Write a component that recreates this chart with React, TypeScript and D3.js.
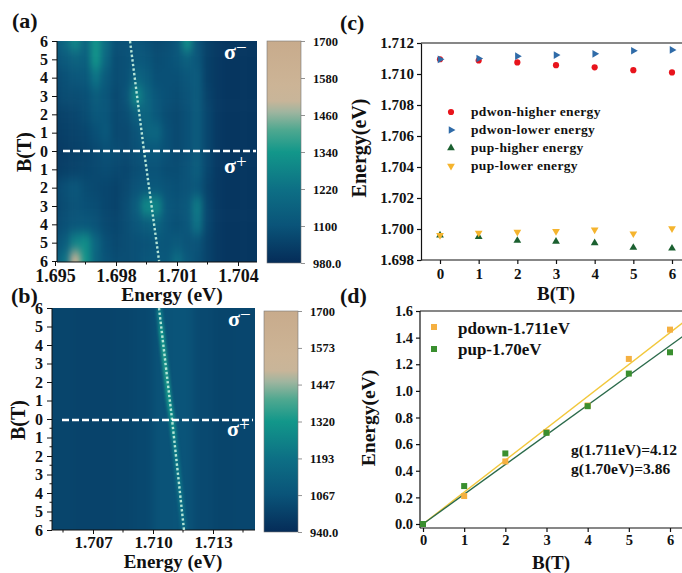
import React, { useEffect, useRef } from "react";
import * as d3 from "d3";

const serif = "'Liberation Serif', serif";

// panel (a): rows run from +6 T (sigma-) to -6 T (sigma+), columns every 0.5 meV from 1.695 eV
const bRows = [6, 5, 4, 3, 2, 1, 0, -1, -2, -3, -4, -5, -6];
const aEnergies = [1.695, 1.6955, 1.696, 1.6965, 1.697, 1.6975, 1.698, 1.6985, 1.699, 1.6995, 1.7, 1.7005, 1.701, 1.7015, 1.702, 1.7025, 1.703, 1.7035, 1.704, 1.7045];
const aGrid = [
  [1110, 1190, 1290, 1170, 1330, 1200, 1090, 1090, 1110, 1090, 1070, 1080, 1110, 1320, 1100, 1040, 1020, 1010, 1010, 1010],
  [1100, 1130, 1160, 1150, 1330, 1180, 1080, 1090, 1120, 1110, 1080, 1090, 1110, 1150, 1110, 1040, 1020, 1010, 1010, 1010],
  [1070, 1090, 1110, 1120, 1230, 1130, 1080, 1090, 1170, 1140, 1090, 1090, 1090, 1110, 1130, 1040, 1020, 1010, 1010, 1010],
  [1060, 1080, 1080, 1090, 1140, 1110, 1070, 1100, 1290, 1180, 1110, 1090, 1080, 1100, 1130, 1050, 1020, 1010, 1010, 1010],
  [1040, 1050, 1060, 1080, 1120, 1110, 1070, 1080, 1150, 1170, 1120, 1080, 1070, 1090, 1130, 1060, 1020, 1010, 1010, 1010],
  [1030, 1040, 1050, 1060, 1090, 1120, 1070, 1070, 1100, 1170, 1180, 1090, 1070, 1090, 1130, 1060, 1020, 1010, 1010, 1010],
  [1020, 1030, 1040, 1050, 1070, 1090, 1080, 1070, 1090, 1120, 1120, 1090, 1070, 1090, 1130, 1060, 1020, 1010, 1010, 1010],
  [1030, 1040, 1050, 1060, 1070, 1080, 1070, 1060, 1080, 1100, 1100, 1080, 1080, 1100, 1140, 1060, 1020, 1010, 1010, 1010],
  [1060, 1090, 1110, 1080, 1070, 1060, 1050, 1070, 1100, 1120, 1120, 1100, 1090, 1100, 1110, 1050, 1020, 1010, 1010, 1010],
  [1060, 1080, 1100, 1090, 1080, 1060, 1050, 1080, 1140, 1300, 1290, 1120, 1100, 1120, 1250, 1060, 1020, 1010, 1010, 1010],
  [1070, 1090, 1110, 1120, 1100, 1070, 1060, 1080, 1110, 1140, 1170, 1110, 1090, 1110, 1230, 1060, 1020, 1010, 1010, 1010],
  [1090, 1140, 1280, 1310, 1180, 1090, 1070, 1080, 1090, 1100, 1120, 1110, 1130, 1100, 1100, 1050, 1020, 1010, 1010, 1010],
  [1120, 1230, 1570, 1330, 1170, 1100, 1080, 1080, 1090, 1110, 1120, 1120, 1210, 1120, 1090, 1050, 1020, 1010, 1010, 1010],
];
const aDotted = [1.69869, 1.69938, 1.70012];

// panel (b): a flat background with one sharp ridge
const bEnergies = [1.7045, 1.7055, 1.7065, 1.7075, 1.7085, 1.7095, 1.7105, 1.7115, 1.7125, 1.7135, 1.7145];
const bBackground = [1025, 1020, 1015, 1015, 1020, 1030, 1065, 1070, 1035, 1020, 1025];
const bRidge = [1.7103, 1.7104, 1.7105, 1.7106, 1.7107, 1.7108, 1.71095, 1.71105, 1.71115, 1.71125, 1.71135, 1.71145, 1.71155];
const bRidgeValues = [1250, 1320, 1335, 1335, 1325, 1310, 1290, 1240, 1220, 1210, 1200, 1190, 1170];
const bDotted = [1.7103, 1.71095, 1.71155];

const aBarTicks = [1700, 1580, 1460, 1340, 1220, 1100, 980];
const bBarTicks = [1700, 1573, 1447, 1320, 1193, 1067, 940];
const cmapStops = [0, 0.17, 0.33, 0.5, 0.6, 0.68, 0.73, 0.8, 1];
const cmapColors = ["#052c58", "#0a5479", "#0d6f85", "#12978a", "#4fa890", "#9fb59f", "#c8b599", "#ccb496", "#c8ab8c"];

// panel (c)
const fieldB = [0, 1, 2, 3, 4, 5, 6];
const pdownHigher = [1.71095, 1.71087, 1.71075, 1.71057, 1.71043, 1.71025, 1.7101];
const pdownLower = [1.71095, 1.7110, 1.71115, 1.71122, 1.7113, 1.7115, 1.71155];
const pupHigher = [1.6996, 1.6995, 1.69925, 1.6992, 1.6991, 1.6988, 1.69875];
const pupLower = [1.6996, 1.69975, 1.6998, 1.69985, 1.69995, 1.6997, 1.70003];
const cTicks = [1.698, 1.7, 1.702, 1.704, 1.706, 1.708, 1.71, 1.712];

// panel (d)
const splitPdown = [0, 0.21, 0.47, 0.69, 0.89, 1.24, 1.46];
const splitPup = [0, 0.285, 0.53, 0.685, 0.885, 1.13, 1.29];
const fitEnds = [0, 6.3];
const fitPdown = [0, 1.51];
const fitPup = [0, 1.407];
const dTicks = [0, 0.2, 0.4, 0.6, 0.8, 1.0, 1.2, 1.4, 1.6];

const App = () => {
  const svgRef = useRef<SVGSVGElement>(null);

  useEffect(() => {
    const svg = d3.select(svgRef.current);
    svg.selectAll("*").remove();
    svg.style("font-family", serif).style("font-weight", "bold");
    const defs = svg.append("defs");

    const cmap = (lo: number, hi: number) =>
      d3.scaleLinear<string>()
        .domain(cmapStops.map((s) => lo + s * (hi - lo)))
        .range(cmapColors);

    const label = (x: number, y: number, s: string, size: number, anchor = "start", rotate = false) => {
      const t = svg.append("text").text(s).attr("font-size", size).attr("text-anchor", anchor).attr("fill", "#111");
      if (rotate) t.attr("transform", `translate(${x},${y}) rotate(-90)`);
      else t.attr("x", x).attr("y", y);
      return t;
    };

    const styleAxis = (g: any, size: number, width = 1) => {
      g.selectAll("text").attr("font-size", size).attr("font-family", serif).attr("font-weight", "bold").attr("fill", "#111");
      g.selectAll("line").attr("stroke", "#111").attr("stroke-width", width);
      g.selectAll(".domain").attr("stroke", "#111").attr("stroke-width", width);
    };

    // heatmap frame shared by (a) and (b)
    const heatPanel = (opts: any) => {
      const { id, x, y, left, right, top, bottom, xTicks, minor, yMinor, blur } = opts;
      defs.append("clipPath").attr("id", `clip-${id}`).append("rect")
        .attr("x", left).attr("y", top).attr("width", right - left).attr("height", bottom - top);
      const f = defs.append("filter").attr("id", `blur-${id}`)
        .attr("filterUnits", "userSpaceOnUse").attr("x", 0).attr("y", 0).attr("width", 682).attr("height", 573)
        .attr("color-interpolation-filters", "sRGB");
      f.append("feGaussianBlur").attr("stdDeviation", blur);
      const outer = svg.append("g").attr("clip-path", `url(#clip-${id})`);
      const inner = outer.append("g").attr("filter", `url(#blur-${id})`);
      opts.draw(inner, outer);

      const ax = d3.axisBottom(x).tickValues(xTicks).tickFormat(d3.format(".3f") as any).tickSize(4).tickSizeOuter(0);
      const gx = svg.append("g").attr("transform", `translate(0,${bottom})`).call(ax as any);
      gx.select(".domain").attr("d", `M${left},0H${right}`);
      styleAxis(gx, opts.xFont);
      gx.selectAll("text").attr("dy", opts.xDy);
      gx.selectAll(".minor").data(minor).enter().append("line").attr("class", "minor")
        .attr("x1", (d: any) => x(d)).attr("x2", (d: any) => x(d)).attr("y1", 0).attr("y2", 2.5).attr("stroke", "#111");

      const ay = d3.axisLeft(y).tickValues(bRows).tickFormat((d: any) => `${Math.abs(d)}`).tickSize(5).tickSizeOuter(0);
      const gy = svg.append("g").attr("transform", `translate(${left},0)`).call(ay as any);
      gy.select(".domain").attr("d", `M0,${top}V${bottom}`);
      styleAxis(gy, 16);
      gy.selectAll("text").attr("x", -9);
      gy.selectAll(".minor").data(yMinor).enter().append("line").attr("class", "minor")
        .attr("y1", (d: any) => y(d)).attr("y2", (d: any) => y(d)).attr("x1", 0).attr("x2", -2.5).attr("stroke", "#111");
    };

    const colorbar = (x0: number, y0: number, y1: number, ticks: number[], id: string) => {
      const lo = ticks[ticks.length - 1];
      const hi = ticks[0];
      const scale = d3.scaleLinear().domain([lo, hi]).range([y1, y0]);
      const grad = defs.append("linearGradient").attr("id", id).attr("x1", 0).attr("x2", 0).attr("y1", 1).attr("y2", 0);
      cmapStops.forEach((s, i) => grad.append("stop").attr("offset", s).attr("stop-color", cmapColors[i]));
      svg.append("rect").attr("x", x0).attr("y", y0).attr("width", 34).attr("height", y1 - y0)
        .attr("fill", `url(#${id})`).attr("stroke", "#777").attr("stroke-width", 0.6);
      const g = svg.append("g").attr("transform", `translate(${x0 + 34},0)`)
        .call(d3.axisRight(scale).tickValues(ticks).tickFormat((d: any) => (d === lo ? `${d}.0` : `${d}`)).tickSize(4).tickSizeOuter(0) as any);
      g.select(".domain").remove();
      styleAxis(g, 12.5, 0.8);
      g.selectAll("line").attr("stroke", "#777");
      g.selectAll("text").attr("x", 12);
    };

    const sigma = (x: number, y: number, sign: string) => {
      const t = svg.append("text").attr("x", x).attr("y", y).attr("fill", "#fff");
      t.append("tspan").text("σ").attr("font-size", 22);
      t.append("tspan").text(sign).attr("font-size", 19).attr("font-weight", "normal").attr("dy", -5);
    };

    const dottedLine = (x: any, y: any, energies: number[]) => {
      const line = d3.line<number>().x((d) => x(d)).y((_, i) => y([6, 0, -6][i]));
      svg.append("path").attr("d", line(energies)).attr("fill", "none")
        .attr("stroke", "#b4e4d6").attr("stroke-width", 2.4).attr("stroke-dasharray", "2.4 2.2");
    };

    // (a)
    {
      const x = d3.scaleLinear().domain([1.695, 1.698]).range([55, 116]);
      const y = d3.scaleLinear().domain([6, -6]).range([41, 261]);
      const color = cmap(980, 1700);
      const left = 57;
      const right = 257;
      const top = 41;
      const bottom = 262;
      heatPanel({
        id: "a", x, y, left, right, top, bottom, blur: "3 6",
        xTicks: [1.695, 1.698, 1.701, 1.704], minor: [1.6965, 1.6995, 1.7025], yMinor: [], xFont: 18, xDy: "0.7em",
        draw: (inner: any) => {
          const dx = x(1.6955) - x(1.695);
          const dy = y(5) - y(6);
          aGrid.forEach((row, r) => {
            inner.selectAll(null).data(row).enter().append("rect")
              .attr("x", (_: any, c: number) => x(aEnergies[c]) - dx / 2 - (c === 0 ? 20 : 0))
              .attr("y", y(bRows[r]) - dy / 2 - (r === 0 ? 20 : 0))
              .attr("width", (_: any, c: number) => dx + 0.5 + (c === 0 ? 20 : 0) + (c === row.length - 1 ? 20 : 0))
              .attr("height", dy + 0.5 + (r === 0 || r === bRows.length - 1 ? 20 : 0))
              .attr("fill", (d: number) => color(d));
          });
        },
      });
      dottedLine(x, y, aDotted);
      svg.append("line").attr("x1", left + 6).attr("x2", right - 1).attr("y1", y(0)).attr("y2", y(0))
        .attr("stroke", "#fff").attr("stroke-width", 2.3).attr("stroke-dasharray", "7 3");
      sigma(224, 59, "−");
      sigma(224, 173, "+");
      colorbar(267, 41, 263, aBarTicks, "bar-a");
      label(12, 28, "(a)", 22);
      label(172, 301, "Energy (eV)", 19.5, "middle");
      label(31, 152, "B(T)", 20, "middle", true);
    }

    // (b)
    {
      const x = d3.scaleLinear().domain([1.707, 1.71]).range([93, 153]);
      const y = d3.scaleLinear().domain([6, -6]).range([308, 530]);
      const color = cmap(940, 1700);
      const left = 52;
      const right = 255;
      const top = 308;
      const bottom = 530;
      heatPanel({
        id: "b", x, y, left, right, top, bottom, blur: "4 4",
        xTicks: [1.707, 1.71, 1.713], minor: [1.7055, 1.7085, 1.7115, 1.7145],
        yMinor: [-0.5, -1.5, -2.5, -3.5, -4.5, -5.5], xFont: 17, xDy: "0.62em",
        draw: (inner: any, outer: any) => {
          const dx = x(1.7055) - x(1.7045);
          inner.selectAll(null).data(bBackground).enter().append("rect")
            .attr("x", (_: any, c: number) => x(bEnergies[c]) - dx / 2 - (c === 0 ? 20 : 0))
            .attr("y", top - 20)
            .attr("width", dx + 40)
            .attr("height", bottom - top + 40)
            .attr("fill", (d: number) => color(d));
          const rf = defs.append("filter").attr("id", "ridge-blur")
            .attr("filterUnits", "userSpaceOnUse").attr("x", 0).attr("y", 0).attr("width", 682).attr("height", 573)
            .attr("color-interpolation-filters", "sRGB");
          rf.append("feGaussianBlur").attr("stdDeviation", "1.6 3");
          const ridge = outer.append("g").attr("filter", "url(#ridge-blur)");
          bRidge.slice(1).forEach((e, i) => {
            ridge.append("line")
              .attr("x1", x(bRidge[i])).attr("x2", x(e))
              .attr("y1", y(bRows[i])).attr("y2", y(bRows[i + 1]))
              .attr("stroke", color(bRidgeValues[i])).attr("stroke-width", 5.5);
          });
        },
      });
      dottedLine(x, y, bDotted);
      svg.append("line").attr("x1", left + 10).attr("x2", right - 2).attr("y1", y(0) + 1).attr("y2", y(0) + 1)
        .attr("stroke", "#fff").attr("stroke-width", 2.3).attr("stroke-dasharray", "7 3");
      sigma(228, 326, "−");
      sigma(227, 436, "+");
      colorbar(264, 311, 532, bBarTicks, "bar-b");
      label(11, 303, "(b)", 22);
      label(173, 568, "Energy (eV)", 19, "middle");
      label(25, 420, "B(T)", 20, "middle", true);
    }

    // (c)
    {
      const x = d3.scaleLinear().domain([0, 6]).range([440, 672]);
      const y = d3.scaleLinear().domain([1.698, 1.712]).range([260, 43]);
      const series = [
        { name: "pdwon-higher energy", values: pdownHigher, color: "#e8141c", type: d3.symbolCircle, rot: 0 },
        { name: "pdwon-lower energy", values: pdownLower, color: "#2f6ba8", type: d3.symbolTriangle, rot: 90 },
        { name: "pup-higher energy", values: pupHigher, color: "#1b6030", type: d3.symbolTriangle, rot: 0 },
        { name: "pup-lower energy", values: pupLower, color: "#f5b42e", type: d3.symbolTriangle, rot: 180 },
      ];
      const gx = svg.append("g").attr("transform", "translate(0,260)")
        .call(d3.axisBottom(x).tickValues(fieldB).tickFormat(d3.format("d") as any).tickSize(4).tickSizeOuter(0) as any);
      gx.select(".domain").attr("d", "M421,0H682");
      styleAxis(gx, 15, 1.2);
      gx.selectAll("text").attr("dy", "0.8em");
      const gy = svg.append("g").attr("transform", "translate(421,0)")
        .call(d3.axisLeft(y).tickValues(cTicks).tickFormat(d3.format(".3f") as any).tickSize(4).tickSizeOuter(0) as any);
      styleAxis(gy, 15, 1.2);
      svg.append("line").attr("x1", 421).attr("x2", 682).attr("y1", 43).attr("y2", 43).attr("stroke", "#111").attr("stroke-width", 1.2);
      series.forEach((s, i) => {
        const sym = d3.symbol().type(s.type).size(s.type === d3.symbolCircle ? 30 : 26);
        svg.append("g").selectAll("path").data(s.values).enter().append("path")
          .attr("d", sym() as string)
          .attr("fill", s.color)
          .attr("transform", (d, k) => `translate(${x(fieldB[k])},${y(d)}) rotate(${s.rot})`);
        const ly = 112 + i * 18;
        svg.append("path").attr("d", sym() as string).attr("fill", s.color)
          .attr("transform", `translate(451,${ly}) rotate(${s.rot})`);
        label(471, ly + 4, s.name, 13.5).attr("letter-spacing", 0.35);
      });
      label(340, 30, "(c)", 22);
      label(366, 148, "Energy(eV)", 20, "middle", true);
      label(556, 300, "B(T)", 19, "middle");
    }

    // (d)
    {
      const x = d3.scaleLinear().domain([0, 6]).range([423, 670]);
      const y = d3.scaleLinear().domain([0, 1.6]).range([524, 311]);
      const gx = svg.append("g").attr("transform", "translate(0,528)")
        .call(d3.axisBottom(x).tickValues(fieldB).tickFormat(d3.format("d") as any).tickSize(4).tickSizeOuter(0) as any);
      gx.select(".domain").attr("d", "M420,0H682");
      styleAxis(gx, 14.5, 1.2);
      const gy = svg.append("g").attr("transform", "translate(420,0)")
        .call(d3.axisLeft(y).tickValues(dTicks).tickFormat(d3.format(".1f") as any).tickSize(4).tickSizeOuter(0) as any);
      gy.select(".domain").attr("d", "M0,311V528");
      styleAxis(gy, 14.5, 1.2);
      svg.append("line").attr("x1", 420).attr("x2", 682).attr("y1", 311).attr("y2", 311).attr("stroke", "#111").attr("stroke-width", 1.2);

      const fit = d3.line<number>().x((_, i) => x(fitEnds[i])).y((d) => y(d));
      svg.append("path").attr("d", fit(fitPdown)).attr("fill", "none").attr("stroke", "#f2c83c").attr("stroke-width", 1.4);
      svg.append("path").attr("d", fit(fitPup)).attr("fill", "none").attr("stroke", "#2a6a4a").attr("stroke-width", 1.4);

      const squares = (vals: number[], color: string) =>
        svg.append("g").selectAll("rect").data(vals).enter().append("rect")
          .attr("x", (_, i) => x(fieldB[i]) - 3).attr("y", (d) => y(d) - 3)
          .attr("width", 6).attr("height", 6).attr("fill", color);
      squares(splitPdown, "#f5b041");
      squares(splitPup, "#3a8f2f");

      svg.append("rect").attr("x", 431).attr("y", 324).attr("width", 6).attr("height", 6).attr("fill", "#f5b041");
      svg.append("rect").attr("x", 431).attr("y", 346).attr("width", 6).attr("height", 6).attr("fill", "#3a8f2f");
      label(458, 334, "pdown-1.711eV", 17);
      label(458, 355, "pup-1.70eV", 17);
      label(571, 455, "g(1.711eV)=4.12", 15.5);
      label(571, 474, "g(1.70eV)=3.86", 15.5);
      label(340, 303, "(d)", 22);
      label(375, 418, "Energy(eV)", 19.5, "middle", true);
      label(551, 569, "B(T)", 19, "middle");
    }
  }, []);

  return <svg ref={svgRef} width={682} height={573} style={{ position: "absolute", left: 0, top: 0 }} />;
};

export default App;
